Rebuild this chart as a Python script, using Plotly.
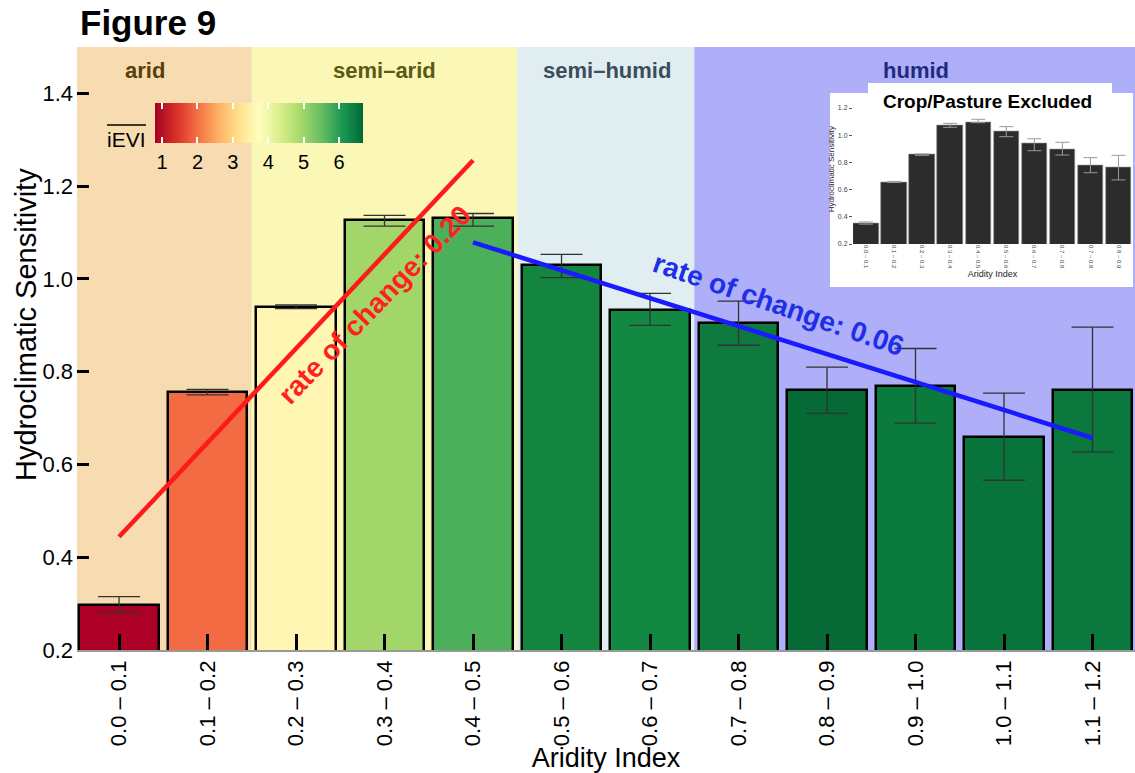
import numpy as np
import plotly.graph_objects as go

FONT = "Liberation Sans, Arial, Helvetica, sans-serif"

# ---------------- data ----------------
categories = ["0.0 – 0.1", "0.1 – 0.2", "0.2 – 0.3", "0.3 – 0.4", "0.4 – 0.5", "0.5 – 0.6",
              "0.6 – 0.7", "0.7 – 0.8", "0.8 – 0.9", "0.9 – 1.0", "1.0 – 1.1", "1.1 – 1.2"]
sensitivity = [0.298, 0.756, 0.940, 1.128, 1.131, 1.029, 0.934, 0.906, 0.760, 0.769, 0.659, 0.760]
err_high = [0.315, 0.762, 0.944, 1.137, 1.141, 1.053, 0.969, 0.952, 0.810, 0.850, 0.754, 0.896]
err_low = [0.281, 0.750, 0.936, 1.114, 1.114, 1.003, 0.900, 0.857, 0.710, 0.689, 0.566, 0.627]
bar_colors = ["#ac0026", "#f26b43", "#fff6b3", "#a3d669", "#4cb05b", "#13853f",
              "#128843", "#0e7a3e", "#066a36", "#0a7a3d", "#08733b", "#0b793e"]

# zones
zone_names = ["arid", "semi–arid", "semi–humid", "humid"]
zone_start = [-0.5, 1.5, 4.5, 6.5]
zone_end = [1.5, 4.5, 6.5, 11.5]
zone_fill = ["#f8dcb1", "#fbf7b7", "#e0eef2", "#aeaef9"]
zone_text_color = ["#5a3d0a", "#5b5a14", "#3b4d5a", "#1e2a7e"]
zone_label_x = [0.29, 3.0, 5.51, 9.0]

# trend lines (category index, value)
red_x = [0, 4]
red_y = [0.444, 1.256]
blue_x = [4, 11]
blue_y = [1.079, 0.657]

# iEVI colour legend
ievi_ticks = [1, 2, 3, 4, 5, 6]
ievi_range = [0.8, 6.68]
rdylgn = ["#a50026", "#d73027", "#f46d43", "#fdae61", "#fee08b", "#ffffbf",
          "#d9ef8b", "#a6d96a", "#66bd63", "#1a9850", "#006837"]

# inset: crop/pasture excluded
inset_categories = ["0.0 – 0.1", "0.1 – 0.2", "0.2 – 0.3", "0.3 – 0.4", "0.4 – 0.5",
                    "0.5 – 0.6", "0.6 – 0.7", "0.7 – 0.8", "0.7 – 0.8", "0.8 – 0.9"]
inset_values = [0.354, 0.656, 0.857, 1.072, 1.097, 1.028, 0.937, 0.899, 0.778, 0.765]
inset_high = [0.362, 0.660, 0.862, 1.087, 1.117, 1.063, 0.974, 0.948, 0.835, 0.852]
inset_low = [0.346, 0.652, 0.852, 1.058, 1.092, 0.989, 0.886, 0.854, 0.724, 0.671]

# ---------------- layout geometry ----------------
W, H = 1135, 773
ML, MR, MT, MB = 77, 0, 47, 123
PW, PH = W - ML - MR, H - MT - MB
XR = [-0.475, 11.48]
YR = [0.2, 1.5]


def px_x(p):
    return (p - ML) / PW


def px_y(p):
    return (H - MB - p) / PH


fig = go.Figure()

xpos = list(range(len(categories)))
fig.add_trace(go.Bar(
    x=xpos, y=sensitivity, width=0.9,
    marker=dict(color=bar_colors, line=dict(color="black", width=2.5)),
    error_y=dict(type="data", symmetric=False,
                 array=[h - v for h, v in zip(err_high, sensitivity)],
                 arrayminus=[v - l for l, v in zip(err_low, sensitivity)],
                 color="#333333", thickness=1.3, width=21),
    showlegend=False, hoverinfo="skip"))

fig.add_trace(go.Scatter(x=red_x, y=red_y, mode="lines",
                         line=dict(color="#ff1a1a", width=4.5), showlegend=False))
fig.add_trace(go.Scatter(x=blue_x, y=blue_y, mode="lines",
                         line=dict(color="#1a1aff", width=4.5), showlegend=False))

# colour legend as heatmap
ramp = np.linspace(ievi_range[0], ievi_range[1], 300)
n = len(rdylgn)
fig.add_trace(go.Heatmap(
    x=ramp, y=[0.5], z=[ramp], zmin=ievi_range[0], zmax=ievi_range[1],
    colorscale=[[i / (n - 1), c] for i, c in enumerate(rdylgn)],
    showscale=False, xaxis="x2", yaxis="y2", hoverinfo="skip"))

# inset
ipos = list(range(len(inset_values)))
fig.add_trace(go.Bar(
    x=ipos, y=inset_values, width=0.9, xaxis="x3", yaxis="y3",
    marker=dict(color="#2c2c2c", line=dict(color="#8a8a8a", width=0.6)),
    error_y=dict(type="data", symmetric=False,
                 array=[h - v for h, v in zip(inset_high, inset_values)],
                 arrayminus=[v - l for l, v in zip(inset_low, inset_values)],
                 color="#9a9a9a", thickness=1, width=7),
    showlegend=False, hoverinfo="skip"))

shapes = []
for s, e, c in zip(zone_start, zone_end, zone_fill):
    shapes.append(dict(type="rect", xref="x", yref="paper",
                       x0=max(s, XR[0]), x1=min(e, XR[1]), y0=0, y1=1,
                       fillcolor=c, line=dict(width=0), layer="below"))
# inset white panel
shapes.append(dict(type="rect", xref="paper", yref="paper",
                   x0=px_x(830), x1=px_x(1133), y0=px_y(287), y1=px_y(93),
                   fillcolor="white", line=dict(width=0), layer="below"))
shapes.append(dict(type="rect", xref="paper", yref="paper",
                   x0=px_x(868), x1=px_x(1112), y0=px_y(94), y1=px_y(83),
                   fillcolor="white", line=dict(width=0), layer="below"))
# overline of iEVI
shapes.append(dict(type="line", xref="paper", yref="paper",
                   x0=px_x(107), x1=px_x(146), y0=px_y(125), y1=px_y(125),
                   line=dict(color="black", width=1.5)))


def ann(x, y, text, size, color, xref="paper", yref="paper", angle=0):
    return dict(x=x, y=y, xref=xref, yref=yref, text=text, showarrow=False,
                xanchor="center", yanchor="middle", textangle=angle,
                font=dict(family=FONT, size=size, color=color))


annotations = []
for name, lx, tc in zip(zone_names, zone_label_x, zone_text_color):
    annotations.append(ann(lx, px_y(70), f"<b>{name}</b>", 22, tc, xref="x"))
annotations.append(dict(x=px_x(78), y=px_y(22), xref="paper", yref="paper",
                        text="<b>Figure 9</b>", showarrow=False, xanchor="left", yanchor="middle",
                        font=dict(family=FONT, size=35, color="black")))
annotations.append(ann(2.89, 0.945, "<b>rate of change: 0.20</b>", 28, "#ff2020",
                       xref="x", yref="y", angle=-46))
annotations.append(ann(7.45, 0.945, "<b>rate of change: 0.06</b>", 28, "#1f2fe8",
                       xref="x", yref="y", angle=19))
annotations.append(ann(px_x(126), px_y(139), "iEVI", 21, "black"))
annotations.append(ann(px_x(987), px_y(101), "<b>Crop/Pasture Excluded</b>", 19, "black"))
annotations.append(ann(px_x(26), px_y(325), "Hydroclimatic Sensitivity", 29, "black", angle=-90))

fig.update_layout(
    width=W, height=H, autosize=False,
    margin=dict(l=ML, r=MR, t=MT, b=MB),
    paper_bgcolor="white", plot_bgcolor="rgba(0,0,0,0)",
    font=dict(family=FONT, color="black"),
    bargap=0, showlegend=False,
    shapes=shapes, annotations=annotations,
    xaxis=dict(range=XR, tickmode="array", tickvals=xpos, ticktext=categories,
               tickangle=-90, ticks="inside", ticklen=16, tickwidth=3, tickcolor="black",
               showline=True, linecolor="#999999", linewidth=1.5, showgrid=False, zeroline=False,
               tickfont=dict(family=FONT, size=22, color="black"),
               title=dict(text="Aridity Index", font=dict(family=FONT, size=27, color="black"),
                          standoff=4)),
    yaxis=dict(range=YR, tickmode="array", tickvals=[0.2, 0.4, 0.6, 0.8, 1.0, 1.2, 1.4],
               tickformat=".1f", ticks="inside", ticklen=12, tickwidth=2.5, tickcolor="black",
               showline=False, showgrid=False, zeroline=False, ticklabelstandoff=3,
               tickfont=dict(family=FONT, size=22, color="black")),
    xaxis2=dict(domain=[px_x(155), px_x(363)], anchor="y2", range=ievi_range,
                tickmode="array", tickvals=ievi_ticks, ticks="inside", ticklen=6,
                tickwidth=1.5, tickcolor="white", showline=True, linecolor="rgba(0,0,0,0)",
                mirror="ticks", showgrid=False, zeroline=False, ticklabelstandoff=1,
                tickfont=dict(family=FONT, size=20, color="black")),
    yaxis2=dict(domain=[px_y(143), px_y(103)], anchor="x2", range=[0, 1], visible=False),
    xaxis3=dict(domain=[px_x(853), px_x(1132)], anchor="y3", range=[-0.46, 9.48],
                tickmode="array", tickvals=ipos, ticktext=inset_categories, tickangle=90,
                ticks="", showgrid=False, zeroline=False, showline=False,
                tickfont=dict(family=FONT, size=6, color="#444444"),
                title=dict(text="Aridity Index", font=dict(family=FONT, size=9, color="#222222"),
                           standoff=2)),
    yaxis3=dict(domain=[px_y(244), px_y(94.4)], anchor="x3", range=[0.2, 1.3],
                tickmode="array", tickvals=[0.2, 0.4, 0.6, 0.8, 1.0, 1.2], tickformat=".1f",
                ticks="outside", ticklen=3, tickcolor="#555555", showgrid=False,
                zeroline=False, showline=False,
                tickfont=dict(family=FONT, size=7, color="#444444"),
                title=dict(text="Hydroclimatic Sensitivity",
                           font=dict(family=FONT, size=8, color="#222222"), standoff=2)),
)

fig.write_html("out.html")
